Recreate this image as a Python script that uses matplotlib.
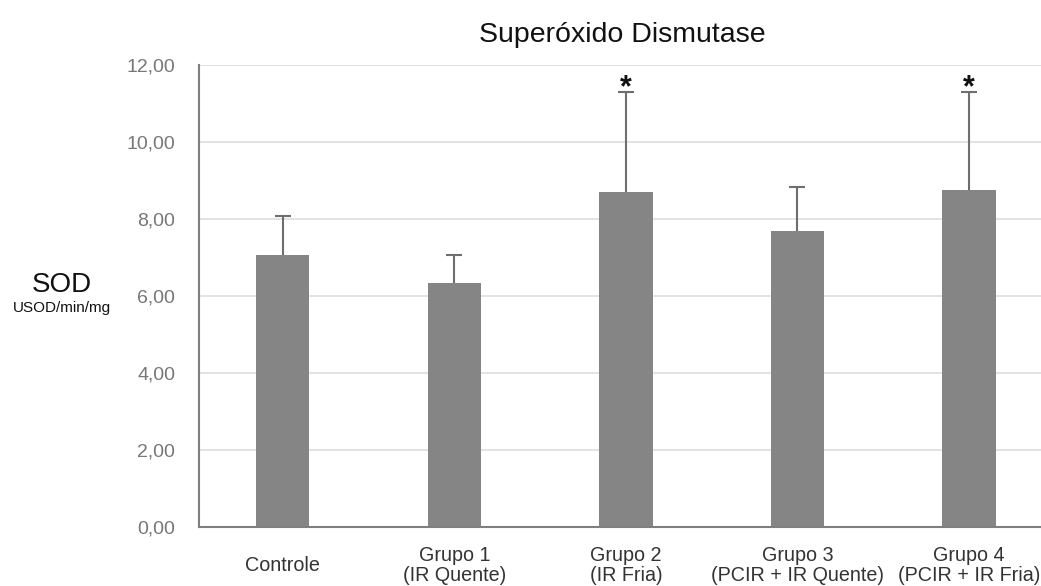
import numpy as np
import matplotlib.pyplot as plt

plt.rcParams['font.family'] = ['Liberation Sans', 'DejaVu Sans']

grupos = ["Controle", "Grupo 1\n(IR Quente)", "Grupo 2\n(IR Fria)",
          "Grupo 3\n(PCIR + IR Quente)", "Grupo 4\n(PCIR + IR Fria)"]
media = [7.06, 6.34, 8.71, 7.70, 8.75]
erro = [1.02, 0.72, 2.58, 1.14, 2.54]
signif = [False, False, True, False, True]
yticks = [0, 2, 4, 6, 8, 10, 12]

fig = plt.figure(figsize=(10.41, 5.86), dpi=100, facecolor='white')
ax = fig.add_axes([0.191, 0.1007, 0.809, 0.7883])

x = np.arange(len(grupos))
# symmetric error bar drawn under the bars, so only the upper half shows
ax.errorbar(x, media, yerr=erro, fmt='none',
            ecolor='#6e6e6e', elinewidth=1.5, capsize=6, capthick=1.5, zorder=1)
ax.bar(x, media, width=0.31, color='#858585', zorder=2)

for xi, m, e, s in zip(x, media, erro, signif):
    if s:
        ax.annotate("*", (xi, m + e), xytext=(0, -3), textcoords='offset points',
                    ha='center', va='baseline', fontsize=22, fontweight='bold',
                    color='#111111')

ax.set_xlim(-0.49, 4.42)
ax.set_ylim(0, 12)
ax.set_yticks(yticks)
ax.yaxis.set_major_formatter(plt.FuncFormatter(lambda v, p: ("%.2f" % v).replace('.', ',')))
ax.grid(axis='y', color='#dedede', linewidth=1.2, zorder=0)
ax.set_axisbelow(True)

ax.set_xticks(x)
ax.set_xticklabels(grupos, fontsize=14.2, color='#333333', linespacing=1.05)
for lab in ax.get_xticklabels():
    lab.set_verticalalignment('center')
ax.tick_params(axis='x', length=0, pad=27.5)
ax.tick_params(axis='y', length=0, pad=17, labelsize=14, labelcolor='#777777')

for side in ['top', 'right']:
    ax.spines[side].set_visible(False)
ax.spines['left'].set_color('#7f7f7f')
ax.spines['left'].set_linewidth(1.5)
ax.spines['bottom'].set_color('#7f7f7f')
ax.spines['bottom'].set_linewidth(1.5)

fig.text(0.5975, 0.94, "Superóxido Dismutase", ha='center', va='center',
         fontsize=20.5, color='#111111')
fig.text(0.0596, 0.513, "SOD", ha='center', va='center', fontsize=20, color='#111111')
fig.text(0.0596, 0.474, "USOD/min/mg", ha='center', va='center', fontsize=11, color='#111111')

fig.savefig('out.png', dpi=100, facecolor='white')
